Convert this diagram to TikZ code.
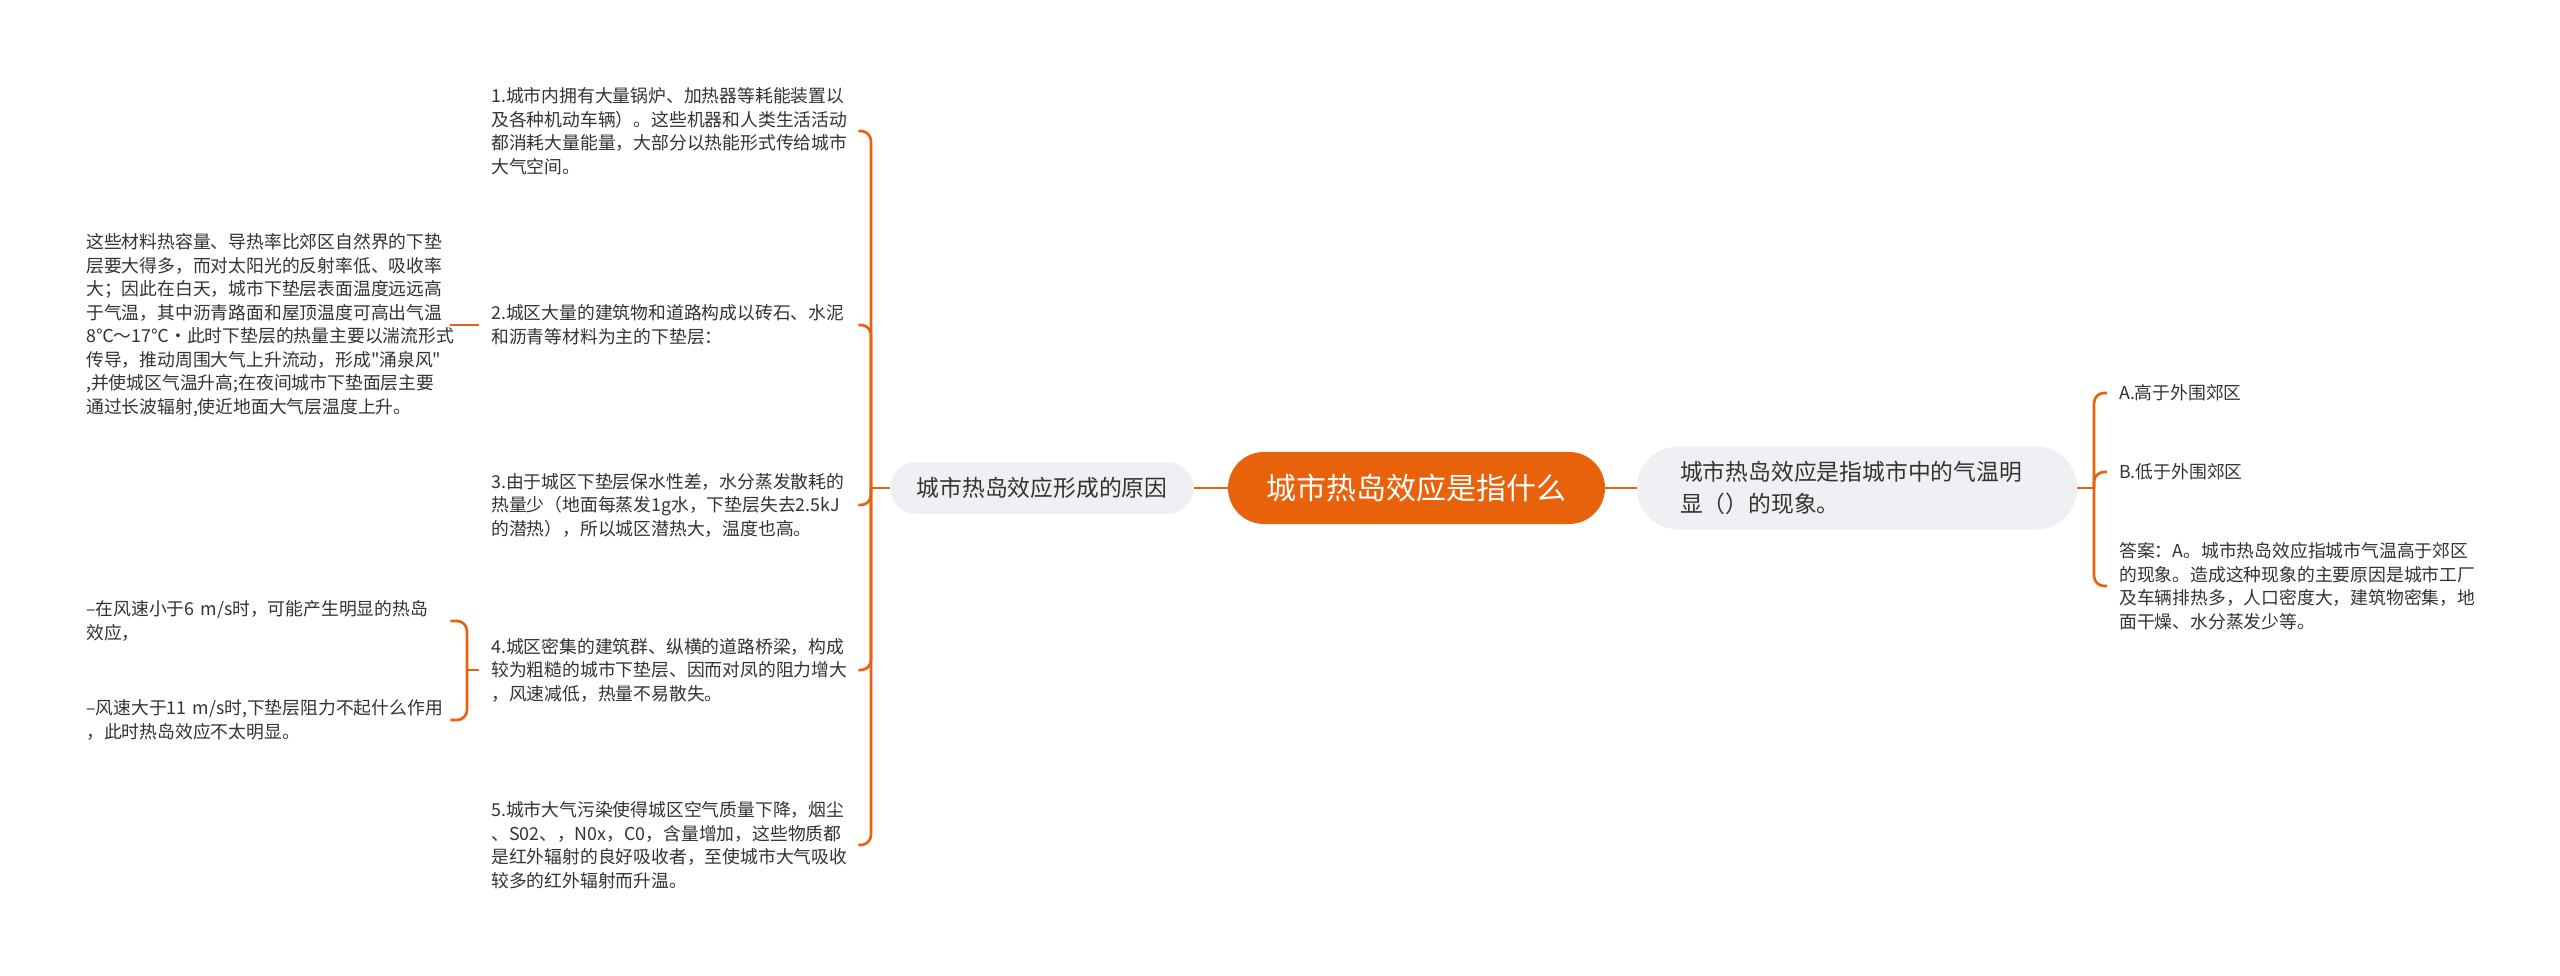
\documentclass[tikz,border=0pt]{standalone}
\usepackage{fontspec}
\newfontfamily\cjk{Noto Sans CJK SC}
\usepackage{xcolor}
\definecolor{mindorange}{RGB}{232,98,12}
\definecolor{mindgray}{RGB}{238,240,243}
\definecolor{mindtext}{RGB}{51,51,51}

\begin{document}
\begin{tikzpicture}[
    x=1pt, y=-1pt,
    link/.style={draw=mindorange, line width=2.6pt, rounded corners=10pt},
    rootbox/.style={fill=mindorange, text=white, rounded corners=36pt, minimum width=377pt, minimum height=72pt, font=\cjk\fontsize{30}{36}\selectfont},
    topicbox/.style={fill=mindgray, text=mindtext, font=\cjk\fontsize{22.8}{32}\selectfont},
    leaf/.style={anchor=west, align=left, text=mindtext, inner xsep=12pt, inner ysep=0pt, font=\cjk\fontsize{17.8}{23.5}\selectfont},
    farleaf/.style={leaf, inner xsep=10pt, text width=354pt},
]
\useasboundingbox (0,0) rectangle (2560,976);
\fill[white] (0,0) rectangle (2560,976);
\node[rootbox] (root) at (1416.5, 488) {城市热岛效应是指什么};
\node[topicbox, rounded corners=26pt, minimum width=303pt, minimum height=52pt] (cause) at (1042, 488) {城市热岛效应形成的原因};
\node[topicbox, rounded corners=41pt, minimum height=83pt, text width=354pt, inner xsep=43pt, align=left] (def) at (1857, 488) {城市热岛效应是指城市中的气温明\\显（）的现象。};
\node[leaf, text width=355pt] (r1) at (479, 131) {1.城市内拥有大量锅炉、加热器等耗能装置以\\及各种机动车辆）。这些机器和人类生活活动\\都消耗大量能量，大部分以热能形式传给城市\\大气空间。};
\node[leaf, text width=355pt] (r2) at (479, 325) {2.城区大量的建筑物和道路构成以砖石、水泥\\和沥青等材料为主的下垫层：};
\node[leaf, text width=355pt] (r3) at (479, 505) {3.由于城区下垫层保水性差，水分蒸发散耗的\\热量少（地面每蒸发1g水，下垫层失去2.5kJ\\的潜热），所以城区潜热大，温度也高。};
\node[leaf, text width=355pt] (r4) at (479, 670) {4.城区密集的建筑群、纵横的道路桥梁，构成\\较为粗糙的城市下垫层、因而对凤的阻力增大\\，风速减低，热量不易散失。};
\node[leaf, text width=355pt] (r5) at (479, 845) {5.城市大气污染使得城区空气质量下降，烟尘\\、S02、，N0x，C0，含量增加，这些物质都\\是红外辐射的良好吸收者，至使城市大气吸收\\较多的红外辐射而升温。};
\node[farleaf] (d2) at (76, 325) {这些材料热容量、导热率比郊区自然界的下垫\\层要大得多，而对太阳光的反射率低、吸收率\\大；因此在白天，城市下垫层表面温度远远高\\于气温，其中沥青路面和屋顶温度可高出气温\\8℃～17℃·此时下垫层的热量主要以湍流形式\\传导，推动周围大气上升流动，形成"涌泉风"\\,并使城区气温升高;在夜间城市下垫面层主要\\通过长波辐射,使近地面大气层温度上升。};
\node[farleaf] (w1) at (76, 621) {–在风速小于6~m/s时，可能产生明显的热岛\\效应，};
\node[farleaf] (w2) at (76, 720) {–风速大于11~m/s时,下垫层阻力不起什么作用\\，此时热岛效应不太明显。};
\node[leaf, text width=366pt] (a1) at (2107, 393) {A.高于外围郊区};
\node[leaf, text width=366pt] (b1) at (2107, 472) {B.低于外围郊区};
\node[leaf, text width=366pt] (ans) at (2107, 586) {答案：A。城市热岛效应指城市气温高于郊区\\的现象。造成这种现象的主要原因是城市工厂\\及车辆排热多，人口密度大，建筑物密集，地\\面干燥、水分蒸发少等。};
\coordinate (lj) at (871, 488);
\coordinate (rj) at (2094, 488);
\coordinate (wj) at (467, 670);
\draw[link] (root) -- (cause);
\draw[link] (root) -- (def);
\draw[link] (cause.west) -- (lj);
\foreach \c in {r1,r2,r3,r4,r5}
    \draw[link] (lj) |- (\c.east);
\draw[link] (def.east) -- (rj);
\foreach \c in {a1,b1,ans}
    \draw[link] (rj) |- (\c.west);
\draw[link] (r2.west) -- (d2.east);
\draw[link] (r4.west) -- (wj);
\foreach \c in {w1,w2}
    \draw[link] (wj) |- (\c.east);
\end{tikzpicture}
\end{document}
